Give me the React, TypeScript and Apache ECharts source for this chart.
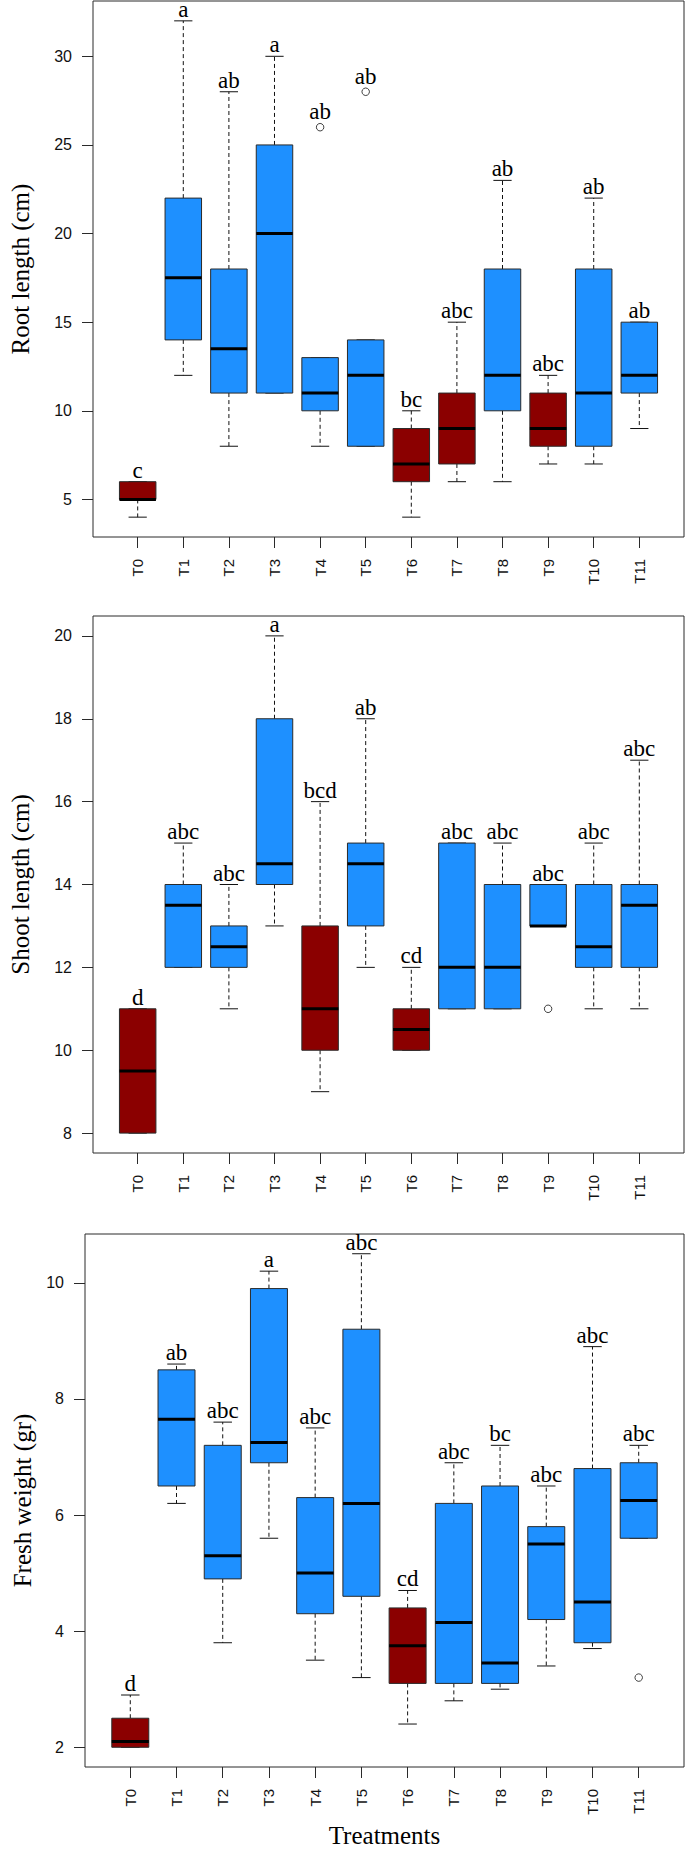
import React, { useEffect, useRef } from "react";
import * as echarts from "echarts";

// ---------- data ----------
const categories = ["T0", "T1", "T2", "T3", "T4", "T5", "T6", "T7", "T8", "T9", "T10", "T11"];

// Root length (cm)
const rootLow = [4, 12, 8, 11, 8, 8, 4, 6, 6, 7, 7, 9];
const rootQ1 = [5, 14, 11, 11, 10, 8, 6, 7, 10, 8, 8, 11];
const rootMedian = [5, 17.5, 13.5, 20, 11, 12, 7, 9, 12, 9, 11, 12];
const rootQ3 = [6, 22, 18, 25, 13, 14, 9, 11, 18, 11, 18, 15];
const rootHigh = [6, 32, 28, 30, 13, 14, 10, 15, 23, 12, 22, 15];
const rootOutliers = [[4, 26], [5, 28]];
const rootLetters = ["c", "a", "ab", "a", "ab", "ab", "bc", "abc", "ab", "abc", "ab", "ab"];
const rootDark = [1, 0, 0, 0, 0, 0, 1, 1, 0, 1, 0, 0];
const rootTicks = [5, 10, 15, 20, 25, 30];

// Shoot length (cm)
const shootLow = [8, 12, 11, 13, 9, 12, 10, 11, 11, 13, 11, 11];
const shootQ1 = [8, 12, 12, 14, 10, 13, 10, 11, 11, 13, 12, 12];
const shootMedian = [9.5, 13.5, 12.5, 14.5, 11, 14.5, 10.5, 12, 12, 13, 12.5, 13.5];
const shootQ3 = [11, 14, 13, 18, 13, 15, 11, 15, 14, 14, 14, 14];
const shootHigh = [11, 15, 14, 20, 16, 18, 12, 15, 15, 14, 15, 17];
const shootOutliers = [[9, 11]];
const shootLetters = ["d", "abc", "abc", "a", "bcd", "ab", "cd", "abc", "abc", "abc", "abc", "abc"];
const shootDark = [1, 0, 0, 0, 1, 0, 1, 0, 0, 0, 0, 0];
const shootTicks = [8, 10, 12, 14, 16, 18, 20];

// Fresh weight (gr)
const weightLow = [2.0, 6.2, 3.8, 5.6, 3.5, 3.2, 2.4, 2.8, 3.0, 3.4, 3.7, 5.6];
const weightQ1 = [2.0, 6.5, 4.9, 6.9, 4.3, 4.6, 3.1, 3.1, 3.1, 4.2, 3.8, 5.6];
const weightMedian = [2.1, 7.65, 5.3, 7.25, 5.0, 6.2, 3.75, 4.15, 3.45, 5.5, 4.5, 6.25];
const weightQ3 = [2.5, 8.5, 7.2, 9.9, 6.3, 9.2, 4.4, 6.2, 6.5, 5.8, 6.8, 6.9];
const weightHigh = [2.9, 8.6, 7.6, 10.2, 7.5, 10.5, 4.7, 6.9, 7.2, 6.5, 8.9, 7.2];
const weightOutliers = [[11, 3.2]];
const weightLetters = ["d", "ab", "abc", "a", "abc", "abc", "cd", "abc", "bc", "abc", "abc", "abc"];
const weightDark = [1, 0, 0, 0, 0, 0, 1, 0, 0, 0, 0, 0];
const weightTicks = [2, 4, 6, 8, 10];

// ---------- styles ----------
const SANS = "'Liberation Sans', Arial, Helvetica, sans-serif";
const SERIF = "'Liberation Serif', 'Times New Roman', Times, serif";
const BLUE = "#1E90FF";
const DARKRED = "#8B0000";
const LINE = "#2a2a2a";

type Panel = {
  title: string;
  low: number[];
  q1: number[];
  med: number[];
  q3: number[];
  high: number[];
  outliers: number[][];
  letters: string[];
  dark: number[];
  ticks: number[];
  top: number;
  height: number;
  nameGap: number;
  xName: string;
};

const panels: Panel[] = [
  { title: "Root length (cm)", low: rootLow, q1: rootQ1, med: rootMedian, q3: rootQ3, high: rootHigh, outliers: rootOutliers, letters: rootLetters, dark: rootDark, ticks: rootTicks, top: 1, height: 536, nameGap: 60, xName: "" },
  { title: "Shoot length (cm)", low: shootLow, q1: shootQ1, med: shootMedian, q3: shootQ3, high: shootHigh, outliers: shootOutliers, letters: shootLetters, dark: shootDark, ticks: shootTicks, top: 616, height: 537, nameGap: 60, xName: "" },
  { title: "Fresh weight (gr)", low: weightLow, q1: weightQ1, med: weightMedian, q3: weightQ3, high: weightHigh, outliers: weightOutliers, letters: weightLetters, dark: weightDark, ticks: weightTicks, top: 1234, height: 536, nameGap: 50, xName: "Treatments" },
];

const positions = categories.map((_, i) => i + 1);

function buildOption() {
  const grid: any[] = [];
  const xAxis: any[] = [];
  const yAxis: any[] = [];
  const series: any[] = [];

  panels.forEach((p, gi) => {
    const allVals = [...p.low, ...p.high, ...p.outliers.map((o) => o[1])];
    const dMin = Math.min(...allVals);
    const dMax = Math.max(...allVals);
    const pad = (dMax - dMin) * 0.04;

    grid.push({
      left: 85,
      width: 599,
      top: p.top,
      height: p.height,
      show: true,
      borderColor: LINE,
      borderWidth: 1,
      backgroundColor: "transparent",
    });

    xAxis.push({
      gridIndex: gi,
      type: "value",
      min: 0.02,
      max: 12.98,
      axisLine: { show: false },
      splitLine: { show: false },
      axisTick: { show: true, length: 11, customValues: positions, lineStyle: { color: LINE, width: 1 } },
      axisLabel: {
        customValues: positions,
        formatter: (v: number) => categories[Math.round(v) - 1] ?? "",
        rotate: 90,
        margin: 22,
        fontSize: 15,
        fontFamily: SANS,
        color: "#111",
      },
      name: p.xName,
      nameLocation: "middle",
      nameGap: 56,
      nameTextStyle: { fontFamily: SERIF, fontSize: 25, color: "#000" },
    });

    yAxis.push({
      gridIndex: gi,
      type: "value",
      min: dMin - pad,
      max: dMax + pad,
      axisLine: { show: false },
      splitLine: { show: false },
      axisTick: { show: true, length: 11, customValues: p.ticks, lineStyle: { color: LINE, width: 1 } },
      axisLabel: {
        customValues: p.ticks,
        margin: 21,
        fontSize: 16,
        fontFamily: SANS,
        color: "#111",
      },
      name: p.title,
      nameLocation: "middle",
      nameRotate: 90,
      nameGap: p.nameGap,
      nameTextStyle: { fontFamily: SERIF, fontSize: 25, color: "#000" },
    });

    const data = categories.map((_, i) => {
      const outAbove = p.outliers.filter((o) => o[0] === i && o[1] > p.high[i]).map((o) => o[1]);
      const topVal = outAbove.length ? Math.max(...outAbove) : p.high[i];
      return [i + 1, p.low[i], p.q1[i], p.med[i], p.q3[i], p.high[i], p.dark[i], topVal, outAbove.length ? 1 : 0];
    });

    series.push({
      type: "custom",
      xAxisIndex: gi,
      yAxisIndex: gi,
      silent: true,
      data,
      renderItem: (params: any, api: any) => {
        const x = api.value(0);
        const low = api.value(1);
        const q1 = api.value(2);
        const med = api.value(3);
        const q3 = api.value(4);
        const high = api.value(5);
        const dark = api.value(6);
        const topVal = api.value(7);
        const hasOut = api.value(8);
        const cx = api.coord([x, med])[0];
        const yLow = api.coord([x, low])[1];
        const yQ1 = api.coord([x, q1])[1];
        const yMed = api.coord([x, med])[1];
        const yQ3 = api.coord([x, q3])[1];
        const yHigh = api.coord([x, high])[1];
        const yTop = api.coord([x, topVal])[1];
        const halfBox = api.size([0.8, 0])[0] / 2;
        const halfCap = api.size([0.4, 0])[0] / 2;
        const children: any[] = [];
        const dash = { stroke: "#111", lineWidth: 1, lineDash: [4, 3] };
        if (high > q3) {
          children.push({ type: "line", shape: { x1: cx, y1: yQ3, x2: cx, y2: yHigh }, style: dash });
        }
        if (low < q1) {
          children.push({ type: "line", shape: { x1: cx, y1: yQ1, x2: cx, y2: yLow }, style: dash });
        }
        children.push({ type: "line", shape: { x1: cx - halfCap, y1: yHigh, x2: cx + halfCap, y2: yHigh }, style: { stroke: "#111", lineWidth: 1 } });
        children.push({ type: "line", shape: { x1: cx - halfCap, y1: yLow, x2: cx + halfCap, y2: yLow }, style: { stroke: "#111", lineWidth: 1 } });
        children.push({
          type: "rect",
          shape: { x: cx - halfBox, y: yQ3, width: halfBox * 2, height: yQ1 - yQ3 },
          style: { fill: dark ? DARKRED : BLUE, stroke: LINE, lineWidth: 1 },
        });
        children.push({ type: "line", shape: { x1: cx - halfBox, y1: yMed, x2: cx + halfBox, y2: yMed }, style: { stroke: "#000", lineWidth: 3 } });
        children.push({
          type: "text",
          x: cx,
          y: yTop - (hasOut ? 4 : 0),
          style: {
            text: p.letters[params.dataIndex],
            align: "center",
            verticalAlign: "bottom",
            fontFamily: SERIF,
            fontSize: 23,
            fill: "#000",
          },
        });
        return { type: "group", children };
      },
    });

    series.push({
      type: "scatter",
      xAxisIndex: gi,
      yAxisIndex: gi,
      silent: true,
      symbol: "circle",
      symbolSize: 7.5,
      itemStyle: { color: "rgba(0,0,0,0)", borderColor: "#111", borderWidth: 1 },
      data: p.outliers.map((o) => [o[0] + 1, o[1]]),
    });
  });

  return {
    animation: false,
    backgroundColor: "#ffffff",
    grid,
    xAxis,
    yAxis,
    series,
  };
}

export default function App() {
  const ref = useRef<HTMLDivElement>(null);
  useEffect(() => {
    if (!ref.current) return;
    const chart = echarts.init(ref.current, undefined, { renderer: "svg" });
    chart.setOption(buildOption() as any);
    return () => chart.dispose();
  }, []);
  return (
    <div
      ref={ref}
      style={{ position: "absolute", left: 0, top: 0, width: 685, height: 1849, background: "#fff" }}
    />
  );
}
